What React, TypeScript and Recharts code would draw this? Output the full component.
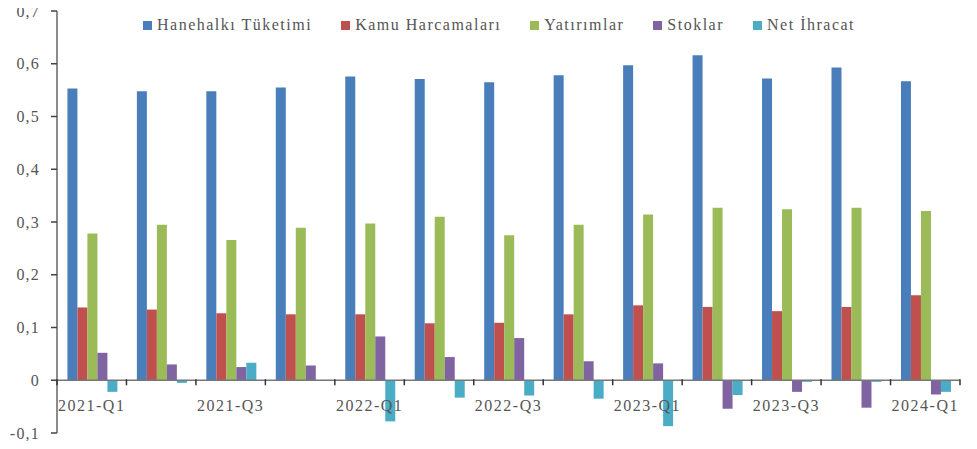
import React from 'react';
import { BarChart, Bar, XAxis, YAxis, Legend, ReferenceLine } from 'recharts';

const quarters = [
  '2021-Q1', '2021-Q2', '2021-Q3', '2021-Q4',
  '2022-Q1', '2022-Q2', '2022-Q3', '2022-Q4',
  '2023-Q1', '2023-Q2', '2023-Q3', '2023-Q4',
  '2024-Q1',
];
const hanehalki = [0.553, 0.548, 0.548, 0.555, 0.576, 0.571, 0.565, 0.578, 0.597, 0.616, 0.572, 0.593, 0.567];
const kamu = [0.138, 0.134, 0.127, 0.125, 0.125, 0.108, 0.109, 0.125, 0.142, 0.139, 0.131, 0.139, 0.161];
const yatirim = [0.278, 0.295, 0.266, 0.289, 0.297, 0.31, 0.275, 0.295, 0.314, 0.327, 0.324, 0.327, 0.321];
const stok = [0.052, 0.03, 0.025, 0.028, 0.083, 0.044, 0.08, 0.036, 0.032, -0.054, -0.022, -0.052, -0.027];
const netIhracat = [-0.022, -0.005, 0.033, 0, -0.078, -0.033, -0.029, -0.035, -0.087, -0.028, -0.003, -0.003, -0.022];
const seriesNames = ['Hanehalkı Tüketimi', 'Kamu Harcamaları', 'Yatırımlar', 'Stoklar', 'Net İhracat'];
const yTicks = [-0.1, 0, 0.1, 0.2, 0.3, 0.4, 0.5, 0.6, 0.7];

const data = quarters.map((q, i) => ({
  quarter: q,
  hanehalki: hanehalki[i],
  kamu: kamu[i],
  yatirim: yatirim[i],
  stok: stok[i],
  net: netIhracat[i],
}));

const W = 977;
const H = 449;
const M = { top: 11, right: 17, left: 0, bottom: 0 };
const Y_W = 57;
const X_H = 16;
const PLOT_W = W - M.left - M.right - Y_W;
const PLOT_H = H - M.top - M.bottom - X_H;
const BAND = PLOT_W / quarters.length;
const ZERO_Y = M.top + PLOT_H * (0.7 / 0.8);

const serif = '"Liberation Serif", "Times New Roman", serif';
const textColor = '#555';

const fmtY = (v: number) => (v === 0 ? '0' : v.toFixed(1).replace('.', ','));

// Excel style: labels sit under the zero line, tick marks on category boundaries
const QuarterTick = (props: any) => {
  const { x, payload } = props;
  return (
    <g>
      <line x1={x - BAND / 2} x2={x - BAND / 2} y1={ZERO_Y - 1} y2={ZERO_Y + 5} stroke="#333" strokeWidth={1.5} />
      <line x1={x + BAND / 2} x2={x + BAND / 2} y1={ZERO_Y - 1} y2={ZERO_Y + 5} stroke="#333" strokeWidth={1.5} />
      <text
        x={x}
        y={ZERO_Y + 31}
        textAnchor="middle"
        fill={textColor}
        fontSize={16}
        fontFamily={serif}
        letterSpacing={1.5}
      >
        {payload.value}
      </text>
    </g>
  );
};

const renderLegend = (props: any) => {
  const items = [...(props.payload || [])].sort(
    (a: any, b: any) => seriesNames.indexOf(a.value) - seriesNames.indexOf(b.value)
  );
  return (
    <div
      style={{
        display: 'flex',
        fontFamily: serif,
        fontSize: 16,
        color: textColor,
        letterSpacing: 1.5,
        whiteSpace: 'nowrap',
      }}
    >
      {items.map((entry: any) => (
        <span key={entry.value} style={{ display: 'flex', alignItems: 'center', marginRight: 29 }}>
          <span style={{ width: 9, height: 9, background: entry.color, marginRight: 5, display: 'inline-block' }} />
          {entry.value}
        </span>
      ))}
    </div>
  );
};

export default function App() {
  return (
    <div style={{ margin: -8, width: W, height: H, background: '#fff' }}>
      <BarChart width={W} height={H} data={data} margin={M} barCategoryGap="15%" barGap={0}>
        <XAxis
          dataKey="quarter"
          axisLine={false}
          tickLine={false}
          interval={1}
          height={X_H}
          tick={<QuarterTick />}
        />
        <YAxis
          domain={[-0.1, 0.7]}
          ticks={yTicks}
          width={Y_W}
          tickFormatter={fmtY}
          tick={{ fill: textColor, fontSize: 16, fontFamily: serif, letterSpacing: 1.2 }}
          tickSize={6}
          tickMargin={11}
          axisLine={{ stroke: '#666', strokeWidth: 1.5 }}
          tickLine={{ stroke: '#444', strokeWidth: 1.5 }}
          allowDataOverflow
        />
        <ReferenceLine y={0} stroke="#777" strokeWidth={1.5} />
        <Legend
          verticalAlign="top"
          align="left"
          content={renderLegend}
          wrapperStyle={{ top: 16, left: 143, width: 800, height: 0 }}
        />
        <Bar dataKey="hanehalki" name={seriesNames[0]} fill="#4A7EBB" isAnimationActive={false} />
        <Bar dataKey="kamu" name={seriesNames[1]} fill="#C0504D" isAnimationActive={false} />
        <Bar dataKey="yatirim" name={seriesNames[2]} fill="#9BBB59" isAnimationActive={false} />
        <Bar dataKey="stok" name={seriesNames[3]} fill="#8064A2" isAnimationActive={false} />
        <Bar dataKey="net" name={seriesNames[4]} fill="#4BACC6" isAnimationActive={false} />
      </BarChart>
    </div>
  );
}
